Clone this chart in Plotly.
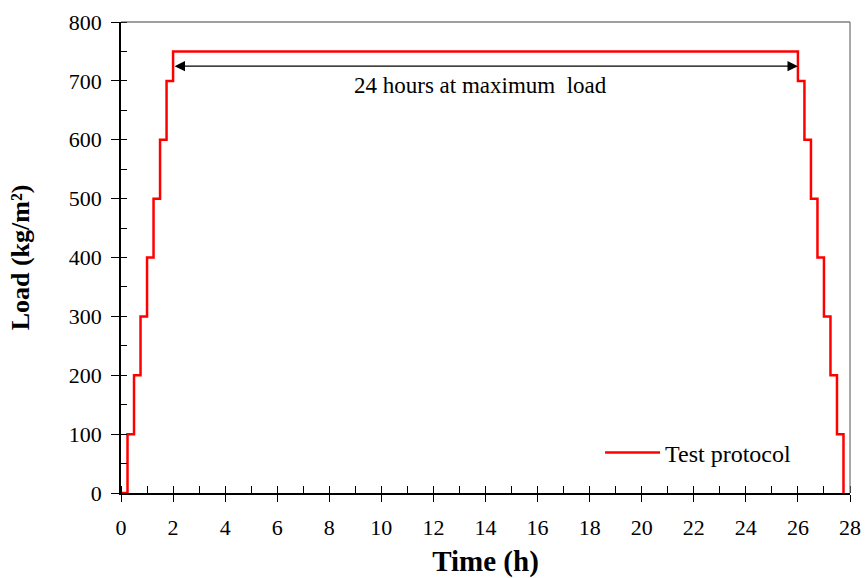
import plotly.graph_objects as go

time_h = [0, 0.25, 0.5, 0.75, 1.0, 1.25, 1.5, 1.75, 2.0,
          26.0, 26.25, 26.5, 26.75, 27.0, 27.25, 27.5, 27.75]
load = [0, 100, 200, 300, 400, 500, 600, 700, 750,
        700, 600, 500, 400, 300, 200, 100, 0]
arrow_start_x = 2.0
arrow_end_x = 26.0
arrow_y = 725
label_text = "24 hours at maximum  load"
series_name = "Test protocol"

x_ticks = list(range(0, 29, 2))
y_ticks = list(range(0, 801, 100))

FONT = "Liberation Serif"

fig = go.Figure()
fig.add_trace(go.Scatter(x=time_h, y=load, mode="lines", line_shape="hv",
                         line=dict(color="#ff0000", width=2.5), name=series_name,
                         cliponaxis=False))
# invisible trace for overlay axes (cross ticks)
fig.add_trace(go.Scatter(x=[0], y=[0], xaxis="x2", yaxis="y2", mode="markers",
                         marker=dict(opacity=0), showlegend=False, hoverinfo="skip"))

fig.update_layout(
    width=865, height=578,
    margin=dict(l=121, r=15, t=22, b=85),
    plot_bgcolor="white", paper_bgcolor="white",
    font=dict(family=FONT, color="black", size=22),
    showlegend=True,
    legend=dict(x=0.926, y=0.085, xanchor="right", yanchor="middle",
                font=dict(family=FONT, size=24), bgcolor="rgba(0,0,0,0)",
                itemwidth=55),
    xaxis=dict(range=[0, 28], tickvals=x_ticks, ticks="outside", ticklen=7,
               tickwidth=1.2, tickcolor="black", showline=True, linecolor="black",
               linewidth=1.5, showgrid=False, zeroline=False, automargin=False,
               tickfont=dict(family=FONT, size=22), ticklabelstandoff=7,
               minor=dict(dtick=1, ticks="inside", ticklen=7, tickcolor="black", tickwidth=1.2),
               title=dict(text="<b>Time (h)</b>", font=dict(family=FONT, size=29), standoff=20)),
    yaxis=dict(range=[0, 800], tickvals=y_ticks, ticks="outside", ticklen=8,
               tickwidth=1.2, tickcolor="black", showline=True, linecolor="black",
               linewidth=1.5, showgrid=False, zeroline=False, automargin=False,
               tickfont=dict(family=FONT, size=22), ticklabelstandoff=5,
               minor=dict(dtick=50, ticks="inside", ticklen=6, tickcolor="black", tickwidth=1.2),
               title=dict(text="<b>Load (kg/m²)</b>", font=dict(family=FONT, size=26), standoff=32)),
    xaxis2=dict(range=[0, 28], overlaying="x", anchor="y", tickvals=x_ticks, ticks="inside",
                ticklen=7, tickwidth=1.2, tickcolor="black", showticklabels=False,
                showgrid=False, zeroline=False, showline=False, automargin=False),
    yaxis2=dict(range=[0, 800], overlaying="y", anchor="x", tickvals=y_ticks, ticks="inside",
                ticklen=6, tickwidth=1.2, tickcolor="black", showticklabels=False,
                showgrid=False, zeroline=False, showline=False, automargin=False),
)

# top and right frame
fig.add_shape(type="line", xref="paper", yref="paper", x0=0, x1=1, y0=1, y1=1,
              line=dict(color="#404040", width=1.2))
fig.add_shape(type="line", xref="paper", yref="paper", x0=1, x1=1, y0=0, y1=1,
              line=dict(color="#707070", width=1.2))

# double-headed arrow
fig.add_annotation(x=arrow_end_x, y=arrow_y, ax=arrow_start_x, ay=arrow_y,
                   xref="x", yref="y", axref="x", ayref="y", text="",
                   showarrow=True, arrowhead=2, startarrowhead=2, arrowside="end+start",
                   arrowsize=1.6, startarrowsize=1.6, arrowwidth=1.3, arrowcolor="black")
fig.add_annotation(x=(arrow_start_x + arrow_end_x) / 2 - 0.2, y=693, xref="x", yref="y",
                   text=label_text, showarrow=False,
                   font=dict(family=FONT, size=23, color="black"))

fig.write_html("out.html", config={"displayModeBar": False},
               post_script="document.body.style.margin='0';document.body.style.overflow='hidden';")
